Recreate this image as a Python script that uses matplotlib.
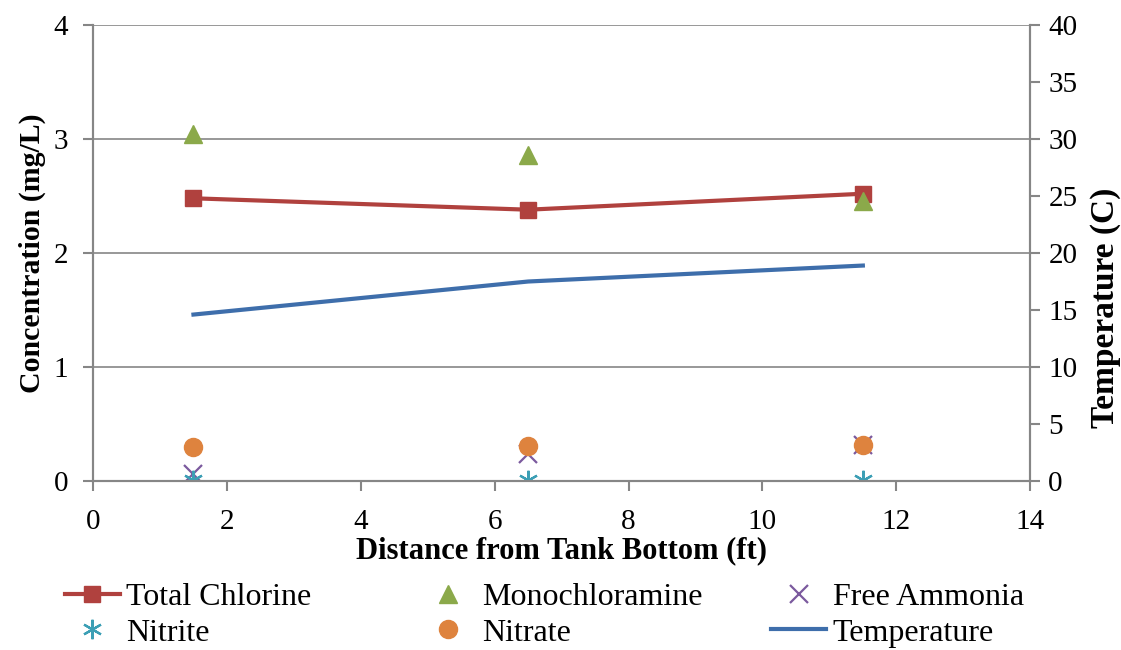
import numpy as np
import matplotlib
matplotlib.use('Agg')
import matplotlib.pyplot as plt

plt.rcParams['font.family'] = ['Liberation Serif', 'DejaVu Serif']

# distance from tank bottom (ft)
distance = [1.5, 6.5, 11.5]

# concentrations (mg/L)
total_chlorine = [2.48, 2.38, 2.52]
monochloramine = [3.04, 2.86, 2.46]
free_ammonia = [0.06, 0.24, 0.32]
nitrite = [0.01, 0.01, 0.01]
nitrate = [0.30, 0.31, 0.32]

# temperature (C)
temperature = [14.6, 17.5, 18.9]

fig = plt.figure(figsize=(11.21, 6.5), dpi=100)
ax = fig.add_axes([0.083, 0.26, 0.836, 0.7015])
ax2 = ax.twinx()

grey = '#868686'

l_tc, = ax.plot(distance, total_chlorine, color='#B0413E', linewidth=3, marker='s',
                markersize=12, label='Total Chlorine', zorder=3)
l_mc, = ax.plot(distance, monochloramine, linestyle='none', color='#8BA94A', marker='^',
                markersize=13, label='Monochloramine', zorder=3)
l_fa, = ax.plot(distance, free_ammonia, linestyle='none', color='#7B5A9E', marker='x',
                markersize=13, markeredgewidth=1.6, label='Free Ammonia', zorder=3)
l_ni, = ax.plot(distance, nitrite, linestyle='none', color='#3C9FB5', marker=(6, 2, 0),
                markersize=14, markeredgewidth=1.6, label='Nitrite', zorder=3)
l_na, = ax.plot(distance, nitrate, linestyle='none', color='#DE833E', marker='o',
                markersize=13, label='Nitrate', zorder=4)
l_t, = ax2.plot(distance, temperature, color='#3E6EAB', linewidth=3, label='Temperature')

ax.set_xlim(0, 14)
ax.set_ylim(0, 4)
ax2.set_ylim(0, 40)
ax.set_xticks(np.arange(0, 15, 2))
ax.set_yticks(np.arange(0, 5, 1))
ax2.set_yticks(np.arange(0, 45, 5))

ax.yaxis.grid(True, color=grey, linewidth=1.2)
ax.set_axisbelow(True)

for a in (ax, ax2):
    a.spines['top'].set_visible(False)
    for s in ('left', 'right', 'bottom'):
        a.spines[s].set_color(grey)
        a.spines[s].set_linewidth(1.5)
    a.tick_params(colors=grey, labelcolor='black', labelsize=21,
                  direction='out', length=7, width=1.5)
ax.tick_params(axis='x', pad=13)
ax.tick_params(axis='y', pad=11)
ax2.tick_params(axis='y', pad=6)

ax.set_xlabel('Distance from Tank Bottom (ft)', fontsize=22, fontweight='bold',
              labelpad=1)
ax.set_ylabel('Concentration (mg/L)', fontsize=21.5, fontweight='bold', labelpad=5)
ax2.set_ylabel('Temperature (C)', fontsize=24, fontweight='bold')
ax2.yaxis.set_label_coords(1.064, 0.379)

# legend in three columns, laid out row by row like the original
columns = [(l_tc, l_ni), (l_mc, l_na), (l_fa, l_t)]
col_x = [0.058, 0.375, 0.688]
for x0, hs in zip(col_x, columns):
    fig.legend(hs, [h.get_label() for h in hs], loc='upper left',
               bbox_to_anchor=(x0, 0.104), frameon=False, fontsize=23,
               borderpad=0, borderaxespad=0, handlelength=1.72,
               handletextpad=0.2, labelspacing=0.2)

fig.savefig('out.png', dpi=100)
